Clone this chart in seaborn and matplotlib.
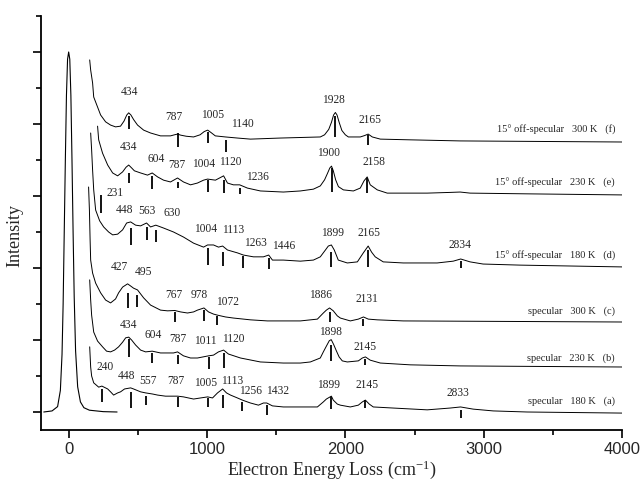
import matplotlib
matplotlib.use("Agg")
import matplotlib.pyplot as plt
import seaborn as sns
import pandas as pd

# ---------------- data ----------------
# elastic peak
el_E = [-180, -120, -80, -60, -48, -40, -32, -24, -16, -8, 0, 8, 16, 24, 32, 40, 50, 65, 85, 110, 150, 250, 350]
el_I = [0.0, 0.03, 0.15, 0.6, 1.6, 3.0, 5.0, 7.0, 8.8, 9.8, 10.0, 9.8, 8.8, 7.0, 5.0, 3.2, 1.7, 0.7, 0.28, 0.12, 0.05, 0.01, 0.0]

# (f) 15 deg off-specular 300 K
f_E = [152, 159, 173, 181, 209, 231, 267, 303, 339, 375, 400, 420, 434, 450, 470, 498, 542, 592, 664, 736,
       765, 787, 810, 850, 903, 950, 980, 1005, 1030, 1060, 1134, 1220, 1314, 1531, 1819, 1850, 1880, 1900,
       1915, 1928, 1940, 1955, 1975, 2000, 2022, 2108, 2140, 2165, 2195, 2253, 2470, 2830, 4000]
f_I = [9.78, 9.50, 9.14, 8.75, 8.47, 8.25, 8.06, 7.97, 7.92, 7.94, 8.08, 8.25, 8.31, 8.25, 8.12, 7.97, 7.83, 7.75, 7.67, 7.67,
       7.70, 7.72, 7.69, 7.66, 7.64, 7.70, 7.79, 7.83, 7.76, 7.67, 7.64, 7.61, 7.58, 7.61, 7.64, 7.70, 7.85, 8.05,
       8.25, 8.32, 8.25, 8.05, 7.82, 7.70, 7.64, 7.64, 7.68, 7.72, 7.64, 7.58, 7.56, 7.53, 7.50]

# (e) 15 deg off-specular 230 K
e_E = [209, 217, 245, 282, 318, 354, 390, 415, 434, 455, 475, 520, 570, 604, 643, 686, 736, 787, 830, 881,
       931, 975, 1004, 1061, 1120, 1148, 1191, 1236, 1292, 1386, 1552, 1675, 1769, 1819, 1850, 1870, 1888, 1900,
       1913, 1930, 1950, 1986, 2058, 2108, 2135, 2158, 2180, 2231, 2303, 2592, 2760, 2830, 2902, 3314, 4000]
e_I = [7.94, 7.56, 7.19, 6.86, 6.64, 6.56, 6.67, 6.80, 6.86, 6.78, 6.70, 6.64, 6.58, 6.64, 6.53, 6.44, 6.39, 6.50, 6.39, 6.31,
       6.36, 6.44, 6.47, 6.44, 6.56, 6.36, 6.31, 6.31, 6.22, 6.14, 6.11, 6.14, 6.19, 6.28, 6.45, 6.62, 6.78, 6.83,
       6.70, 6.45, 6.26, 6.17, 6.14, 6.22, 6.42, 6.53, 6.31, 6.17, 6.08, 6.08, 6.10, 6.11, 6.08, 6.06, 6.03]

# (d) 15 deg off-specular 180 K
d_E = [159, 166, 173, 181, 195, 224, 253, 289, 318, 354, 390, 419, 448, 484, 520, 563, 592, 630, 686, 758,
       830, 903, 975, 1004, 1047, 1083, 1113, 1148, 1220, 1263, 1336, 1408, 1446, 1473, 1552, 1675, 1769, 1819,
       1856, 1877, 1899, 1920, 1949, 2014, 2087, 2130, 2165, 2190, 2216, 2274, 2419, 2664, 2780, 2834, 2902,
       2996, 3263, 4000]
d_I = [7.75, 7.28, 6.72, 6.17, 5.61, 5.31, 5.14, 5.00, 4.92, 4.94, 5.06, 5.25, 5.28, 5.19, 5.17, 5.25, 5.14, 5.19, 5.11, 5.00,
       4.86, 4.69, 4.58, 4.64, 4.64, 4.58, 4.61, 4.50, 4.42, 4.36, 4.31, 4.31, 4.36, 4.22, 4.22, 4.19, 4.22, 4.31,
       4.50, 4.61, 4.64, 4.50, 4.22, 4.14, 4.17, 4.42, 4.61, 4.44, 4.31, 4.17, 4.14, 4.14, 4.19, 4.25, 4.17,
       4.11, 4.08, 4.03]

# (c) specular 300 K
c_E = [144, 150, 155, 159, 173, 195, 231, 267, 303, 339, 361, 390, 426, 448, 469, 498, 520, 542, 592, 664,
       715, 767, 809, 859, 903, 931, 978, 1011, 1047, 1076, 1134, 1191, 1314, 1437, 1675, 1798, 1841, 1863,
       1886, 1913, 1942, 1964, 2036, 2094, 2131, 2166, 2231, 2419, 4000]
c_I = [6.25, 5.61, 4.78, 4.22, 3.86, 3.58, 3.31, 3.11, 3.03, 3.14, 3.31, 3.47, 3.56, 3.50, 3.44, 3.39, 3.28, 3.17, 2.97, 2.83,
       2.81, 2.82, 2.78, 2.75, 2.78, 2.83, 2.89, 2.78, 2.72, 2.69, 2.64, 2.61, 2.56, 2.53, 2.53, 2.58, 2.75, 2.83,
       2.89, 2.81, 2.67, 2.61, 2.53, 2.58, 2.64, 2.58, 2.56, 2.53, 2.50]

# (b) specular 230 K
b_E = [152, 159, 166, 181, 209, 245, 274, 303, 332, 361, 390, 412, 434, 455, 484, 520, 556, 604, 664, 758,
       787, 830, 881, 931, 1011, 1047, 1083, 1120, 1155, 1242, 1386, 1552, 1675, 1747, 1819, 1841, 1863, 1884,
       1898, 1915, 1935, 1955, 1978, 2014, 2094, 2123, 2145, 2180, 2253, 2470, 2830, 4000]
b_I = [3.67, 3.11, 2.69, 2.22, 1.97, 1.81, 1.69, 1.67, 1.72, 1.81, 1.94, 2.06, 2.08, 2.00, 1.86, 1.72, 1.67, 1.69, 1.64, 1.64,
       1.67, 1.56, 1.50, 1.50, 1.56, 1.58, 1.67, 1.72, 1.61, 1.50, 1.39, 1.36, 1.36, 1.39, 1.50, 1.67, 1.83, 1.98,
       2.01, 1.88, 1.70, 1.53, 1.42, 1.39, 1.42, 1.50, 1.53, 1.44, 1.36, 1.31, 1.28, 1.25]

# (a) specular 180 K
a_E = [152, 159, 166, 181, 217, 240, 282, 303, 325, 354, 375, 404, 448, 469, 520, 557, 606, 643, 700, 787,
       830, 903, 953, 1005, 1040, 1076, 1113, 1141, 1170, 1220, 1256, 1314, 1372, 1408, 1432, 1473, 1552, 1798,
       1841, 1863, 1899, 1913, 1942, 1964, 2036, 2094, 2123, 2145, 2173, 2202, 2346, 2592, 2758, 2833, 2924,
       3069, 3314, 4000]
a_I = [1.81, 1.25, 1.00, 0.81, 0.69, 0.72, 0.64, 0.56, 0.47, 0.53, 0.56, 0.64, 0.67, 0.64, 0.56, 0.53, 0.50, 0.47, 0.44, 0.44,
       0.42, 0.36, 0.39, 0.42, 0.39, 0.53, 0.64, 0.53, 0.47, 0.39, 0.33, 0.25, 0.19, 0.25, 0.25, 0.17, 0.14, 0.14,
       0.28, 0.36, 0.44, 0.33, 0.22, 0.19, 0.14, 0.19, 0.28, 0.33, 0.22, 0.14, 0.11, 0.06, 0.11, 0.14, 0.08,
       0.03, 0.00, -0.03]

# peak assignments: positions, marker top/bottom, label positions
f_peaks = [434, 787, 1005, 1140, 1928, 2165]
f_top = [8.22, 7.75, 7.78, 7.56, 8.22, 7.69]
f_bot = [7.86, 7.36, 7.47, 7.22, 7.64, 7.42]
f_lx = [440, 758, 1040, 1256, 1913, 2180]
f_ly = [8.89, 8.19, 8.25, 8.00, 8.67, 8.11]

e_peaks = [434, 604, 787, 1004, 1120, 1236, 1900, 2158]
e_top = [6.64, 6.56, 6.39, 6.44, 6.44, 6.22, 6.78, 6.50]
e_bot = [6.36, 6.19, 6.22, 6.11, 6.08, 6.06, 6.11, 6.08]
e_lx = [433, 635, 780, 975, 1170, 1364, 1877, 2209]
e_ly = [7.36, 7.03, 6.86, 6.89, 6.94, 6.53, 7.19, 6.94]

d_peaks = [231, 448, 563, 630, 1004, 1113, 1263, 1446, 1899, 2165, 2834]
d_top = [6.03, 5.11, 5.14, 5.06, 4.56, 4.44, 4.33, 4.28, 4.44, 4.50, 4.19]
d_bot = [5.53, 4.64, 4.78, 4.72, 4.08, 4.06, 4.00, 3.97, 4.03, 4.03, 4.00]
d_lx = [339, 404, 563, 751, 989, 1191, 1350, 1552, 1906, 2173, 2830]
d_ly = [6.08, 5.61, 5.58, 5.53, 5.08, 5.06, 4.69, 4.61, 4.97, 4.97, 4.64]

c_peaks = [427, 495, 767, 978, 1072, 1886, 2131]
c_top = [3.31, 3.25, 2.78, 2.83, 2.67, 2.78, 2.58]
c_bot = [2.89, 2.92, 2.50, 2.53, 2.42, 2.50, 2.39]
c_lx = [368, 541, 758, 946, 1148, 1819, 2159]
c_ly = [4.03, 3.89, 3.25, 3.25, 3.06, 3.25, 3.14]

b_peaks = [434, 604, 787, 1011, 1120, 1898, 2145]
b_top = [2.03, 1.64, 1.58, 1.53, 1.64, 1.86, 1.47]
b_bot = [1.53, 1.36, 1.33, 1.19, 1.22, 1.42, 1.31]
b_lx = [433, 614, 787, 989, 1191, 1892, 2144]
b_ly = [2.42, 2.14, 2.03, 1.97, 2.03, 2.22, 1.81]

a_peaks = [240, 448, 557, 787, 1005, 1113, 1256, 1432, 1899, 2145, 2833]
a_top = [0.64, 0.56, 0.44, 0.42, 0.39, 0.47, 0.28, 0.19, 0.42, 0.33, 0.06]
a_bot = [0.28, 0.11, 0.19, 0.14, 0.14, 0.11, 0.03, -0.08, 0.08, 0.11, -0.17]
a_lx = [260, 419, 570, 773, 989, 1184, 1314, 1509, 1877, 2159, 2816]
a_ly = [1.25, 1.00, 0.86, 0.86, 0.81, 0.86, 0.58, 0.58, 0.75, 0.75, 0.53]

curve_names = ["15\u00b0 off-specular   300 K   (f)", "15\u00b0 off-specular   230 K   (e)",
               "15\u00b0 off-specular   180 K   (d)", "specular   300 K   (c)",
               "specular   230 K   (b)", "specular   180 K   (a)"]
curve_name_y = [7.83, 6.36, 4.33, 2.81, 1.50, 0.31]
curve_name_x = 3950

x_ticks = [0, 1000, 2000, 3000, 4000]

# ---------------- plotting ----------------
sns.set_style("ticks")
plt.rcParams["font.family"] = ["Liberation Serif", "DejaVu Serif"]
plt.rcParams["mathtext.fontset"] = "custom"
plt.rcParams["mathtext.rm"] = "Liberation Serif"
plt.rcParams["mathtext.it"] = "Liberation Serif:italic"
plt.rcParams["mathtext.default"] = "regular"

fig = plt.figure(figsize=(6.41, 4.83), dpi=100)
ax = fig.add_axes([41 / 641, 53 / 483, 581 / 641, 414 / 483])

curves = [(f_E, f_I), (e_E, e_I), (d_E, d_I), (c_E, c_I), (b_E, b_I), (a_E, a_I)]
sns.lineplot(x=el_E, y=el_I, ax=ax, color="black", lw=0.8, sort=False, estimator=None)
for E, I in curves:
    sns.lineplot(x=E, y=I, ax=ax, color="black", lw=0.7, sort=False, estimator=None)

peak_sets = [(f_peaks, f_top, f_bot, f_lx, f_ly), (e_peaks, e_top, e_bot, e_lx, e_ly),
             (d_peaks, d_top, d_bot, d_lx, d_ly), (c_peaks, c_top, c_bot, c_lx, c_ly),
             (b_peaks, b_top, b_bot, b_lx, b_ly), (a_peaks, a_top, a_bot, a_lx, a_ly)]
for pk, top, bot, lx, ly in peak_sets:
    ax.vlines(pk, bot, top, color="black", lw=1.3)
    for p, x, y in zip(pk, lx, ly):
        ax.text(x, y, str(p), ha="center", va="center", fontsize=8.3)

for name, y in zip(curve_names, curve_name_y):
    ax.text(curve_name_x, y, name, ha="right", va="center", fontsize=7.5)

ax.set_xlim(-200, 4000)
ax.set_ylim(-0.5, 11)
ax.set_xticks(x_ticks)
ax.set_xticks([500, 1500, 2500, 3500], minor=True)
ax.set_xticklabels([str(t) for t in x_ticks], family=["Liberation Sans", "DejaVu Sans"], fontsize=12)
ax.set_yticks([0, 2, 4, 6, 8, 10])
ax.set_yticks([1, 3, 5, 7, 9, 11], minor=True)
ax.set_yticklabels([])
ax.tick_params(axis="both", which="major", direction="out", length=6, width=1.2, color="black", pad=3)
ax.tick_params(axis="both", which="minor", direction="out", length=3.5, width=1.2, color="black")
ax.set_xlabel("Electron Energy Loss (cm$^{-1}$)", fontsize=13, labelpad=1)
ax.set_ylabel("Intensity", fontsize=13)
ax.yaxis.set_label_coords(-0.03, 0.47)
for s in ["top", "right"]:
    ax.spines[s].set_visible(False)
for s in ["left", "bottom"]:
    ax.spines[s].set_linewidth(1.3)
    ax.spines[s].set_color("black")

fig.savefig("out.png", dpi=100)
